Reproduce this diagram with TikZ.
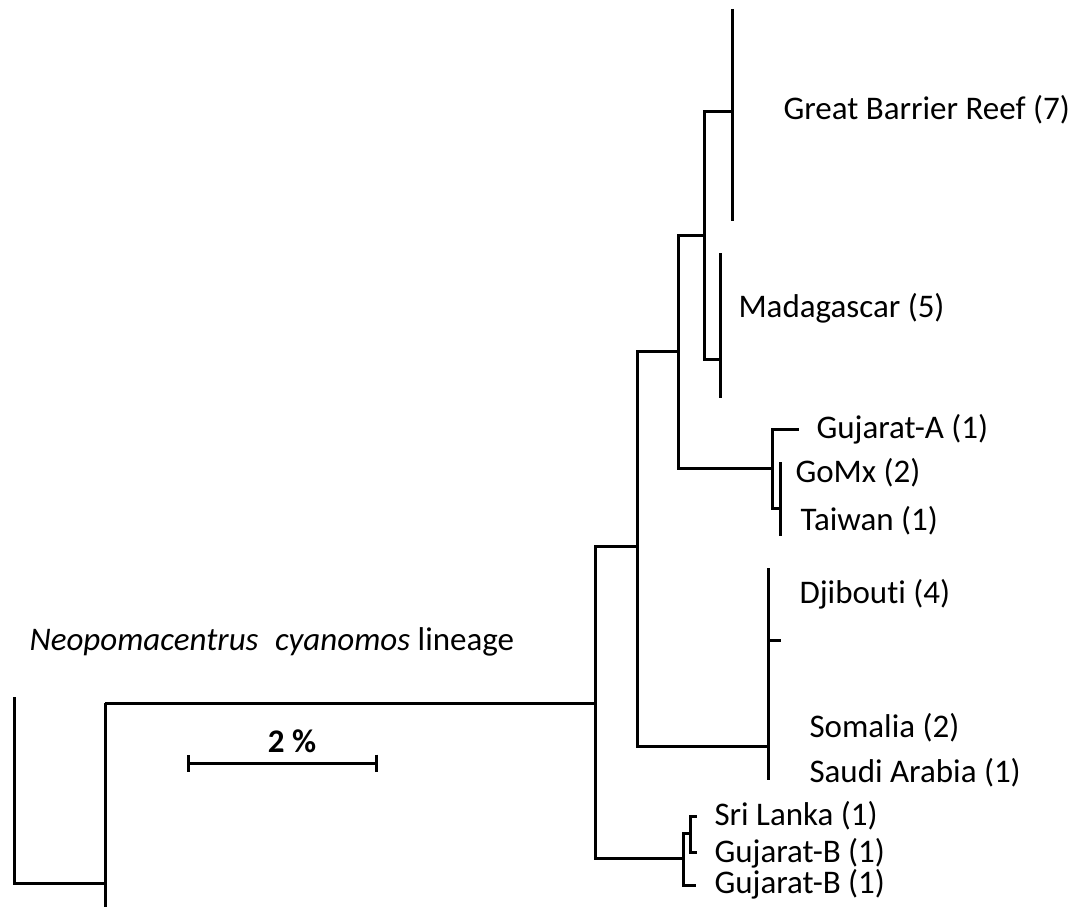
\documentclass[tikz,border=0pt]{standalone}
\usepackage{fontspec}
\setmainfont{Carlito}[Ligatures=NoCommon]
\usepackage{tikz}
\usetikzlibrary{arrows.meta}

\begin{document}
\begin{tikzpicture}[x=1pt,y=-1pt,line width=3pt,taxon/.style={anchor=base west,inner sep=0pt,font=\fontsize{33}{40}\selectfont}]
\useasboundingbox (0,0) rectangle (1078,907);
% noeuds internes
\coordinate (og) at (14,697);
\coordinate (ogj) at (105,883);
\coordinate (n0) at (105,703);
\coordinate (bas) at (105,907);
\coordinate (n1) at (595,703);
\coordinate (n2) at (637,546);
\coordinate (n3) at (678,351);
\coordinate (n4) at (704,235);
\coordinate (n5) at (772,468);
\coordinate (n6) at (683,858);
\coordinate (n7) at (690,833);
% feuilles
\coordinate (gbr) at (732,111);
\coordinate (mad) at (720,359);
\coordinate (guja) at (799,429);
\coordinate (gt) at (780,508);
\coordinate (dj) at (768,746);
\coordinate (sl) at (697,816);
\coordinate (gujb1) at (697,852);
\coordinate (gujb2) at (696,885);
\draw (og) |- (ogj);
\draw (n0) -- (bas);
\draw (n0) -- (n1);
\foreach \x/\y in {n1/n2,n1/n6,n2/n3,n2/dj,n3/n4,n3/n5,n4/gbr,n4/mad,n5/guja,n5/gt,n6/n7,n6/gujb2,n7/sl,n7/gujb1}{\draw (\x) |- (\y);}
% clades
\draw (gbr |- 0,9) -- (gbr |- 0,221);
\draw (mad |- 0,253) -- (mad |- 0,398);
\draw (gt |- 0,462) -- (gt |- 0,536);
\draw (dj |- 0,568) -- (dj |- 0,780);
\coordinate (djt) at (781,640);
\draw (dj |- djt) -- (djt);
\node[taxon] (tgbr) at (782,119) {Great Barrier Reef (7)};
\node[taxon] (tmad) at (737,317) {Madagascar (5)};
\node[taxon] (tguja) at (815,438) {Gujarat-A (1)};
\node[taxon] (tgomx) at (794,482) {GoMx (2)};
\node[taxon] (ttai) at (799,530) {Taiwan (1)};
\node[taxon] (tdj) at (798,603) {Djibouti (4)};
\node[taxon] (tsom) at (808,737) {Somalia (2)};
\node[taxon] (tsau) at (808,782) {Saudi Arabia (1)};
\node[taxon] (tsl) at (713,825) {Sri Lanka (1)};
\node[taxon] (tgujb1) at (713,862) {Gujarat-B (1)};
\node[taxon] (tgujb2) at (713,893) {Gujarat-B (1)};
\node[taxon] (lignee) at (28,650) {\textit{Neopomacentrus\hspace{0.5em}cyanomos} lineage};
% echelle
\coordinate (ea) at (187,763);
\coordinate (eb) at (378,763);
\draw[{Bar[width=17pt]}-{Bar[width=17pt]}] (ea) -- (eb);
\node[taxon,anchor=base] (echelle) at (292,752) {\textbf{2 \%}};
\end{tikzpicture}
\end{document}
